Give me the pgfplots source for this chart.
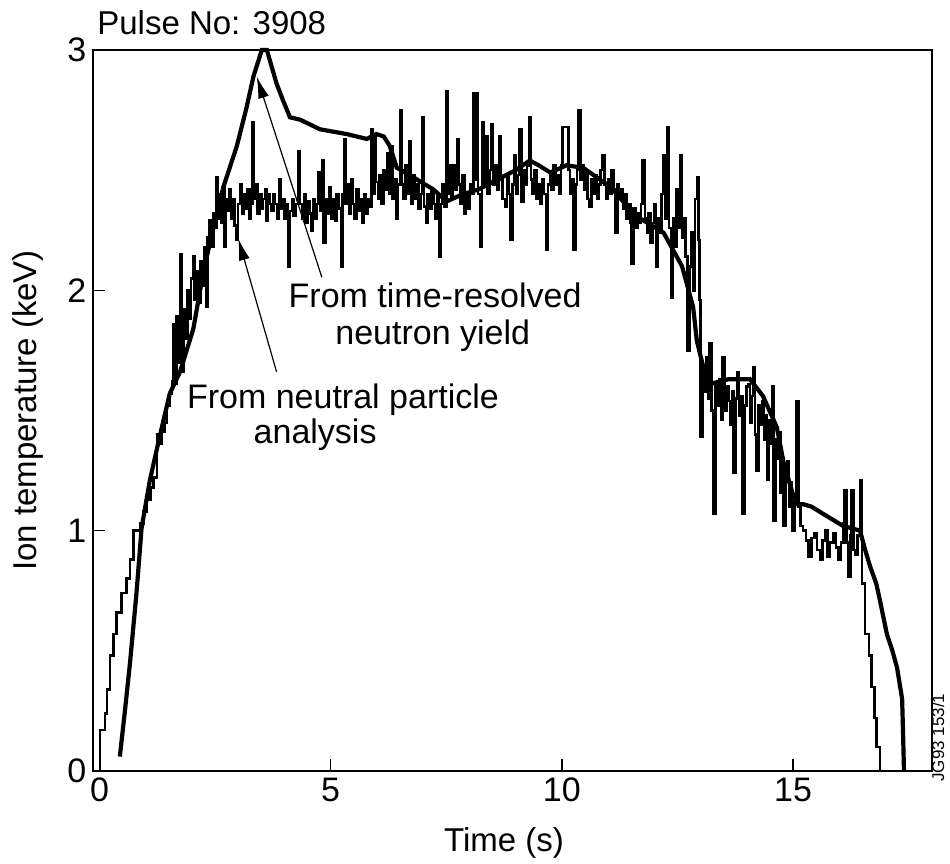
\documentclass[border=0pt]{standalone}
\usepackage{pgfplots}
\pgfplotsset{compat=1.18}
\usepackage{fontspec}
\setmainfont{Liberation Sans}
\usetikzlibrary{arrows.meta}
\begin{document}
\begin{tikzpicture}
\begin{axis}[name=ax, scale only axis, width=419.2pt, height=360.5pt,
 xmin=-0.134, xmax=18.0, ymin=0, ymax=3,
 clip=false,
 axis line style={line width=1.1pt},
 xtick={0,5,10,15}, ytick={0,1,2,3},
 tick align=inside, major tick length=6pt,
 xtick pos=bottom, ytick pos=left,
 tick style={line width=0.8pt, black},
 ticklabel style={font=\fontsize{17}{17}\selectfont},
 /pgf/number format/assume math mode=true,
 xlabel={Time (s)}, ylabel={Ion temperature (keV)},
 label style={font=\fontsize{16.5}{17}\selectfont},
 xlabel style={at={(axis description cs:0.4899,-0.1123)}, anchor=base},
 ylabel style={at={(axis description cs:-0.0672,0.5)}, anchor=base},
]
% Neutral particle analysis (stepped, noisy)
\addplot[const plot, line width=1.3pt, black] coordinates {
(0.00,0.00) (0.01,0.17) (0.12,0.24) (0.16,0.34) (0.23,0.48) (0.30,0.57) (0.37,0.66) (0.48,0.74) (0.58,0.80) (0.66,0.88)
(0.73,1.00) (0.88,1.03) (0.95,1.08) (1.02,1.13) (1.10,1.18) (1.17,1.22) (1.24,1.40) (1.28,1.36) (1.34,1.41) (1.40,1.45)
(1.46,1.52) (1.52,1.57) (1.57,1.62) (1.60,1.86) (1.63,1.61) (1.66,1.89) (1.69,1.70) (1.72,1.78) (1.75,2.15) (1.78,1.66)
(1.82,1.92) (1.86,1.80) (1.90,2.00) (1.94,1.88) (1.98,2.05) (2.02,2.14) (2.06,1.96) (2.10,2.08) (2.14,1.95) (2.18,2.12)
(2.22,2.02) (2.26,2.18) (2.30,1.93) (2.34,2.22) (2.38,2.29) (2.42,2.18) (2.46,2.32) (2.50,2.26) (2.53,2.47) (2.56,2.30)
(2.60,2.40) (2.63,2.28) (2.66,2.43) (2.70,2.18) (2.73,2.38) (2.77,2.33) (2.80,2.42) (2.84,2.30) (2.88,2.38) (2.92,2.27)
(2.96,2.21) (3.00,2.36) (3.04,2.44) (3.08,2.32) (3.12,2.40) (3.16,2.34) (3.20,2.42) (3.24,2.30) (3.28,2.36) (3.31,2.70)
(3.34,2.38) (3.38,2.44) (3.42,2.32) (3.46,2.40) (3.50,2.34) (3.54,2.38) (3.58,2.42) (3.61,2.29) (3.64,2.40) (3.68,2.36)
(3.72,2.33) (3.76,2.40) (3.80,2.36) (3.84,2.30) (3.88,2.46) (3.92,2.34) (3.96,2.38) (4.00,2.30) (4.04,2.36) (4.08,2.10)
(4.12,2.33) (4.16,2.38) (4.20,2.31) (4.24,2.36) (4.30,2.58) (4.34,2.36) (4.38,2.30) (4.42,2.40) (4.46,2.28) (4.50,2.37)
(4.54,2.32) (4.58,2.25) (4.62,2.38) (4.66,2.30) (4.70,2.36) (4.74,2.49) (4.78,2.33) (4.82,2.54) (4.85,2.20) (4.89,2.38)
(4.93,2.32) (4.97,2.43) (5.01,2.30) (5.05,2.38) (5.09,2.29) (5.13,2.40) (5.18,2.34) (5.22,2.10) (5.26,2.40) (5.29,2.63)
(5.32,2.36) (5.36,2.44) (5.40,2.32) (5.44,2.46) (5.48,2.36) (5.52,2.30) (5.56,2.42) (5.60,2.33) (5.64,2.38) (5.68,2.28)
(5.72,2.40) (5.76,2.32) (5.80,2.38) (5.84,2.35) (5.88,2.67) (5.91,2.40) (5.95,2.65) (5.98,2.45) (6.02,2.38) (6.06,2.48)
(6.10,2.36) (6.14,2.50) (6.18,2.42) (6.22,2.57) (6.26,2.40) (6.30,2.60) (6.34,2.38) (6.38,2.46) (6.42,2.30) (6.46,2.44)
(6.50,2.75) (6.54,2.44) (6.58,2.38) (6.62,2.52) (6.66,2.40) (6.70,2.62) (6.74,2.36) (6.78,2.48) (6.82,2.38) (6.86,2.44)
(6.90,2.34) (6.94,2.40) (6.98,2.72) (7.02,2.35) (7.06,2.28) (7.10,2.40) (7.14,2.34) (7.18,2.42) (7.22,2.36) (7.26,2.30)
(7.30,2.40) (7.34,2.14) (7.38,2.36) (7.42,2.44) (7.46,2.35) (7.50,2.83) (7.53,2.40) (7.57,2.52) (7.61,2.38) (7.65,2.52)
(7.69,2.42) (7.73,2.63) (7.77,2.44) (7.81,2.36) (7.85,2.48) (7.89,2.32) (7.93,2.40) (7.97,2.34) (8.01,2.44) (8.05,2.40)
(8.09,2.82) (8.12,2.46) (8.16,2.82) (8.19,2.40) (8.23,2.18) (8.27,2.70) (8.31,2.44) (8.35,2.64) (8.39,2.40) (8.43,2.50)
(8.47,2.69) (8.51,2.44) (8.55,2.52) (8.60,2.42) (8.64,2.64) (8.68,2.46) (8.72,2.38) (8.77,2.35) (8.81,2.48) (8.85,2.40)
(8.89,2.21) (8.93,2.44) (8.97,2.56) (9.01,2.40) (9.05,2.48) (9.09,2.67) (9.13,2.37) (9.17,2.50) (9.21,2.44) (9.25,2.52)
(9.29,2.72) (9.33,2.46) (9.37,2.40) (9.41,2.50) (9.45,2.38) (9.49,2.44) (9.53,2.36) (9.57,2.46) (9.61,2.40) (9.66,2.17)
(9.70,2.44) (9.74,2.49) (9.78,2.42) (9.82,2.52) (9.86,2.44) (9.90,2.48) (9.94,2.40) (9.98,2.52) (10.02,2.68) (10.14,2.50)
(10.18,2.40) (10.22,2.46) (10.25,2.17) (10.29,2.44) (10.33,2.50) (10.36,2.75) (10.40,2.46) (10.44,2.52) (10.48,2.42) (10.52,2.50)
(10.56,2.38) (10.60,2.35) (10.64,2.46) (10.68,2.40) (10.72,2.48) (10.76,2.38) (10.80,2.44) (10.84,2.50) (10.88,2.56) (10.92,2.44)
(10.96,2.38) (11.00,2.46) (11.04,2.40) (11.08,2.50) (11.12,2.42) (11.16,2.24) (11.20,2.44) (11.24,2.38) (11.28,2.42) (11.32,2.34)
(11.36,2.40) (11.40,2.30) (11.44,2.36) (11.48,2.28) (11.51,2.11) (11.55,2.34) (11.59,2.26) (11.63,2.32) (11.67,2.28) (11.71,2.36)
(11.75,2.54) (11.80,2.30) (11.84,2.24) (11.88,2.32) (11.92,2.20) (11.96,2.28) (12.00,2.36) (12.04,2.10) (12.08,2.30) (12.12,2.24)
(12.16,2.40) (12.20,2.56) (12.24,2.30) (12.28,2.68) (12.32,2.26) (12.36,1.97) (12.40,2.30) (12.44,2.18) (12.48,2.42) (12.52,2.26)
(12.56,2.56) (12.60,2.22) (12.64,2.30) (12.68,2.14) (12.72,1.75) (12.76,2.10) (12.80,2.24) (12.84,2.00) (12.88,2.38) (12.92,2.47)
(12.95,2.21) (12.98,1.96) (13.00,1.39) (13.04,1.68) (13.08,1.58) (13.12,1.72) (13.16,1.55) (13.20,1.78) (13.24,1.50) (13.28,1.07)
(13.32,1.61) (13.36,1.52) (13.40,1.63) (13.44,1.46) (13.48,1.72) (13.52,1.50) (13.56,1.60) (13.60,1.54) (13.64,1.44) (13.68,1.58)
(13.71,1.24) (13.75,1.55) (13.79,1.66) (13.83,1.48) (13.87,1.56) (13.91,1.07) (13.95,1.52) (13.99,1.60) (14.03,1.61) (14.07,1.45)
(14.11,1.56) (14.14,1.68) (14.18,1.40) (14.21,1.25) (14.25,1.52) (14.29,1.44) (14.33,1.54) (14.37,1.38) (14.41,1.48) (14.44,1.21)
(14.48,1.46) (14.52,1.36) (14.55,1.60) (14.58,1.04) (14.62,1.38) (14.66,1.30) (14.69,1.41) (14.73,1.16) (14.77,1.30) (14.80,1.02)
(14.84,1.22) (14.87,1.29) (14.91,1.10) (14.95,1.20) (14.98,1.00) (15.03,1.12) (15.08,1.54) (15.12,1.10) (15.16,1.02) (15.22,1.00)
(15.28,0.96) (15.34,0.89) (15.40,0.97) (15.46,0.99) (15.52,0.92) (15.58,0.88) (15.64,0.96) (15.69,1.00) (15.74,0.89) (15.80,0.95)
(15.87,0.99) (15.93,0.93) (15.98,0.88) (16.04,0.95) (16.09,1.03) (16.12,1.17) (16.16,0.95) (16.20,0.81) (16.24,0.98) (16.27,1.17)
(16.31,0.92) (16.34,0.90) (16.40,0.98) (16.45,1.21) (16.49,0.78) (16.56,0.57) (16.64,0.48) (16.70,0.35) (16.76,0.22) (16.81,0.10)
(16.88,0.00) (16.95,0.00)
};
% Time-resolved neutron yield (thick, smooth)
\addplot[line width=2.1pt, black] coordinates {
(0.44,0.06) (0.55,0.25) (0.66,0.45) (0.80,0.74) (0.91,1.01) (1.09,1.21) (1.30,1.39) (1.52,1.57) (1.74,1.66) (2.03,1.84)
(2.24,2.07) (2.46,2.26) (2.68,2.43) (2.97,2.60) (3.18,2.76) (3.33,2.89) (3.51,3.00) (3.62,3.00) (3.83,2.86) (3.97,2.79)
(4.12,2.72) (4.34,2.71) (4.77,2.67) (5.35,2.65) (5.78,2.63) (5.99,2.65) (6.15,2.64) (6.28,2.60) (6.43,2.51) (6.79,2.47)
(7.22,2.42) (7.51,2.37) (7.86,2.40) (8.20,2.42) (8.60,2.46) (9.00,2.50) (9.31,2.54) (9.50,2.52) (9.75,2.49) (10.10,2.52)
(10.46,2.51) (11.05,2.43) (11.60,2.31) (12.20,2.24) (12.60,2.10) (12.84,1.93) (12.92,1.79) (13.06,1.68) (13.20,1.61) (13.60,1.63)
(14.07,1.63) (14.35,1.56) (14.65,1.43) (14.80,1.28) (15.00,1.15) (15.09,1.11) (15.22,1.11) (15.40,1.10) (15.65,1.07) (16.08,1.02)
(16.45,1.00) (16.56,0.92) (16.67,0.85) (16.80,0.78) (16.88,0.71) (17.03,0.57) (17.15,0.50) (17.25,0.43) (17.36,0.30) (17.38,0.16)
(17.40,0.00)
};
\draw[-{Latex[length=11pt,width=5.5pt]}, line width=0.6pt] (axis cs:4.81,2.054) -- (axis cs:3.40,2.89);
\draw[-{Latex[length=11pt,width=5.5pt]}, line width=0.6pt] (axis cs:3.83,1.661) -- (axis cs:3.00,2.216);
\node[anchor=base west, inner sep=0, font=\fontsize{17}{17}\selectfont] at (axis cs:4.084,1.927) {From time-resolved};
\node[anchor=base west, inner sep=0, font=\fontsize{17}{17}\selectfont] at (axis cs:5.094,1.773) {neutron yield};
\node[anchor=base west, inner sep=0, font=\fontsize{17}{17}\selectfont] at (axis cs:1.886,1.510) {From neutral particle};
\node[anchor=base west, inner sep=0, font=\fontsize{17}{17}\selectfont] at (axis cs:3.327,1.364) {analysis};
\node[anchor=base west, inner sep=0, font=\fontsize{16.5}{17}\selectfont] at (axis description cs:0.0044,1.0208) {Pulse No: 3908};
\end{axis}
\node[rotate=90, anchor=west, inner sep=0, font=\fontsize{8.5}{9}\selectfont] at ([xshift=3.2pt,yshift=-5.5pt]ax.south east) {JG93 153/1};
\pgfresetboundingbox
\path[use as bounding box] ([xshift=-46.65pt,yshift=-46.5pt]ax.south west) rectangle ([xshift=9.15pt,yshift=25pt]ax.north east);
\end{tikzpicture}
\end{document}
